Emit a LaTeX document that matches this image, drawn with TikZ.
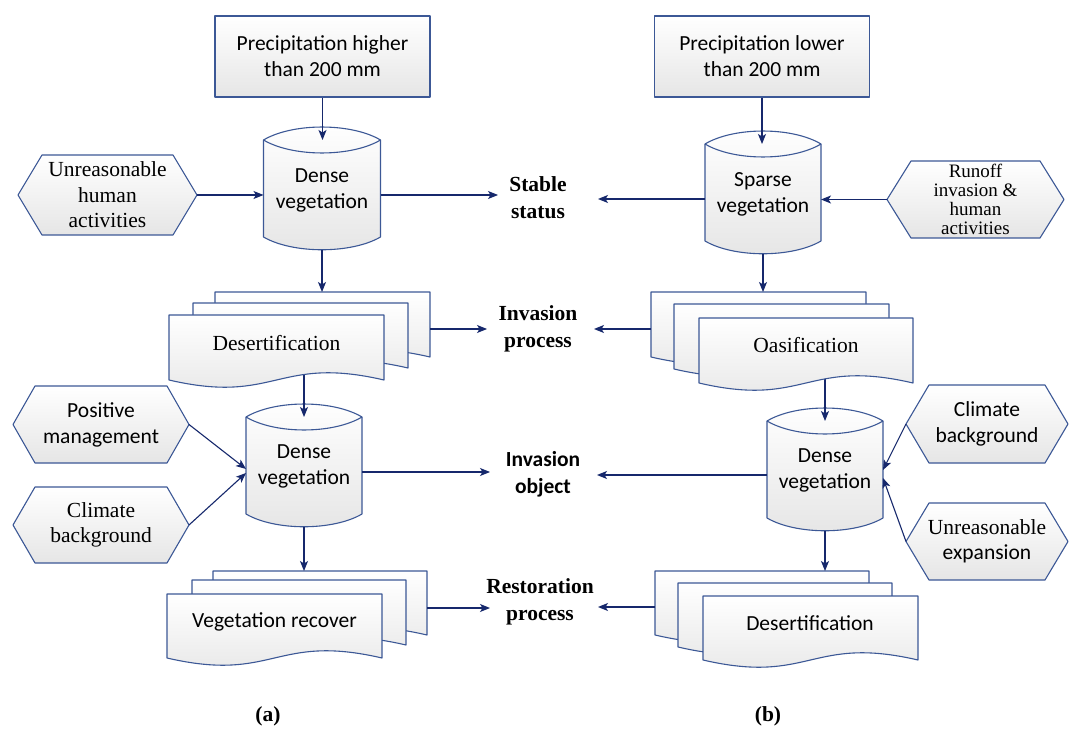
\documentclass[tikz,border=0pt]{standalone}
\usepackage{fontspec}
\setmainfont{Liberation Serif}
\newfontfamily\calfont{Carlito}
\usetikzlibrary{arrows.meta}
\definecolor{shapeblue}{RGB}{60,88,150}
\definecolor{navy}{RGB}{22,40,108}
\tikzset{
 shp/.style={draw=shapeblue, line width=1.1pt, top color=white, bottom color=black!10, line join=round},
 outl/.style={draw=shapeblue, line width=1.1pt},
 anch/.style={inner sep=0pt, outer sep=0pt, draw=none, fill=none},
 arr/.style={draw=navy, line width=1.1pt, -{Stealth[length=10pt,width=8pt,inset=2.5pt]}},
 sans/.style={font=\calfont\fontsize{21.5}{26}\selectfont, align=center, inner sep=0pt},
 serif/.style={font=\fontsize{21.5}{25.5}\selectfont, align=center, inner sep=0pt},
 lab/.style={font=\bfseries\fontsize{21.5}{27}\selectfont, align=center, inner sep=0pt},
}
% cylinder: name, cx, ytop, width
\newcommand\cylshape[4]{%
 \path[shp] ({#2-#4/2},{#3+13}) .. controls ({#2-#4/4},{#3-4.3}) and ({#2+#4/4},{#3-4.3}) .. ({#2+#4/2},{#3+13})
   -- ({#2+#4/2},{#3+110}) .. controls ({#2+#4/4},{#3+127}) and ({#2-#4/4},{#3+127}) .. ({#2-#4/2},{#3+110}) -- cycle;
 \draw[outl] ({#2-#4/2},{#3+13}) .. controls ({#2-#4/4},{#3+30.3}) and ({#2+#4/4},{#3+30.3}) .. ({#2+#4/2},{#3+13});
 \node[anch, minimum width=#4, minimum height=110] (#1) at (#2,{#3+68}) {};}
% hexagon: name, x0, ytop, x1, ybot, inset
\newcommand\hexshape[6]{%
 \path[shp] (#2,{(#3+#5)/2}) -- ({#2+#6},#3) -- ({#4-#6},#3) -- (#4,{(#3+#5)/2}) -- ({#4-#6},#5) -- ({#2+#6},#5) -- cycle;
 \node[anch, minimum width={#4-#2}, minimum height={#5-#3}] (#1) at ({(#2+#4)/2},{(#3+#5)/2}) {};}
% document page anchor: name, x0, ytop, x1, yend
\newcommand\docanchor[5]{%
 \node[anch, minimum width={#4-#2}, minimum height={#5-#3}] (#1) at ({(#2+#4)/2},{(#3+#5)/2}) {};}
% document page shape: x0, ytop, x1, yend
\newcommand\docpage[4]{%
 \path[shp] (#1,#2) -- (#3,#2) -- (#3,#4) .. controls ({(#1+#3)/2},{#4-25}) and ({(#1+#3)/2},{#4+25}) .. (#1,#4) -- cycle;}
\begin{document}
\begin{tikzpicture}[x=1pt,y=-1pt]
\fill[white] (0,0) rectangle (1072,730);
\useasboundingbox (0,0) rectangle (1072,730);

% document anchors
\docanchor{d1a}{215}{292}{430}{357}
\docanchor{d1b}{193}{303}{408}{368}
\docanchor{d1c}{169}{315}{384}{380}
\docanchor{d2a}{651}{292}{866}{357}
\docanchor{d2b}{674}{304}{889}{369}
\docanchor{d2c}{699}{318}{913}{383}
\docanchor{d3a}{213}{571}{427}{635}
\docanchor{d3b}{192}{580}{406}{645}
\docanchor{d3c}{167}{594}{382}{658}
\docanchor{d4a}{655}{571}{869}{635}
\docanchor{d4b}{678}{583}{892}{647}
\docanchor{d4c}{703}{596}{918}{660}

% rectangles
\node[shp, sans, minimum width=215pt, minimum height=81pt] (r1) at (322.5,56.5) {Precipitation higher\\than 200 mm};
\node[shp, sans, minimum width=215pt, minimum height=81pt] (r2) at (762,56.5) {Precipitation lower\\than 200 mm};

% cylinders
\cylshape{c1}{322}{127}{117}
\cylshape{c2}{304}{404}{116}
\cylshape{c3}{763}{131}{116}
\cylshape{c4}{825}{408}{116}

% hexagons
\hexshape{h1}{18}{155}{197}{235}{24}
\hexshape{h2}{13}{386}{189}{463}{22}
\hexshape{h3}{13}{487}{189}{563}{22}
\hexshape{h4}{887}{161}{1064}{238}{24}
\hexshape{h5}{906}{385}{1068}{463}{23}
\hexshape{h6}{906}{503}{1068}{580}{23}

% connectors from documents to cylinders (under the documents)
\draw[arr] (c2.north |- d1c.center) -- (c2.north);
\draw[arr] (c4.north |- d2c.center) -- (c4.north);

% documents
\docpage{215}{292}{430}{357}
\docpage{193}{303}{408}{368}
\docpage{169}{315}{384}{380}
\docpage{651}{292}{866}{357}
\docpage{674}{304}{889}{369}
\docpage{699}{318}{913}{383}
\docpage{213}{571}{427}{635}
\docpage{192}{580}{406}{645}
\docpage{167}{594}{382}{658}
\docpage{655}{571}{869}{635}
\docpage{678}{583}{892}{647}
\docpage{703}{596}{918}{660}

% texts
\node[sans] (tc1) at (322,190) {Dense\\vegetation};
\node[sans] (tc3) at (763,194) {Sparse\\vegetation};
\node[sans] (tc2) at (304,466) {Dense\\vegetation};
\node[sans] (tc4) at (825,470) {Dense\\vegetation};
\node[serif] (th1) at (107.5,195) {Unreasonable\\human\\activities};
\node[sans] (th2) at (101,425) {Positive\\management};
\node[serif] (th3) at (101,525) {Climate\\background};
\node[serif, font=\fontsize{19}{19}\selectfont] (th4) at (975.5,199.5) {Runoff\\invasion \&\\human\\activities};
\node[sans] (th5) at (987,424) {Climate\\background};
\node[serif] (th6) at (987,541.5) {Unreasonable\\{\calfont expansion}};
\node[serif] (td1) at (276.5,343) {Desertification};
\node[serif] (td2) at (806,345) {Oasification};
\node[sans] (td3) at (274.5,622) {Vegetation recover};
\node[sans] (td4) at (810,623) {Desertification};

% middle labels
\node[lab] (l1) at (538,198) {Stable\\status};
\node[lab] (l2) at (538,329) {Invasion\\process};
\node[lab, font=\calfont\bfseries\fontsize{21.5}{27}\selectfont] (l3) at (543,474) {Invasion\\object};
\node[lab] (l4) at (540,602) {Restoration\\process};
\node[lab] (la) at (268,716) {(a)};
\node[lab] (lb) at (768,716) {(b)};

% arrow end points near the labels
\coordinate (e1L) at (498,195);
\coordinate (e1R) at (598,199);
\coordinate (e2L) at (487,329);
\coordinate (e2R) at (594,329);
\coordinate (e3L) at (490,472);
\coordinate (e3R) at (597,475);
\coordinate (e4L) at (490,608);
\coordinate (e4R) at (598,607);

% connectors
\draw[arr] (r1.south) -- (r1.south |- c1.north);
\draw[arr] (r2.south) -- (r2.south |- c3.north);
\draw[arr] (h1.east) -- (h1.east -| c1.west);
\draw[arr] (c1.east |- e1L) -- (e1L);
\draw[arr] (c1.south) -- (c1.south |- d1a.north);
\draw[arr] (h4.west) -- (h4.west -| c3.east);
\draw[arr] (c3.west |- e1R) -- (e1R);
\draw[arr] (c3.south) -- (c3.south |- d2a.north);
\draw[arr] (d1a.east |- e2L) -- (e2L);
\draw[arr] (d2a.west |- e2R) -- (e2R);
\draw[arr] (h2.east) -- ([yshift=3pt]c2.west);
\draw[arr] (h3.east) -- ([yshift=-1pt]c2.west);
\draw[arr] (h5.west) -- ([yshift=6pt]c4.east);
\draw[arr] (h6.west) -- ([yshift=-2pt]c4.east);
\draw[arr] (c2.east |- e3L) -- (e3L);
\draw[arr] (c4.west |- e3R) -- (e3R);
\draw[arr] (c2.south) -- (c2.south |- d3a.north);
\draw[arr] (c4.south) -- (c4.south |- d4a.north);
\draw[arr] (d3a.east |- e4L) -- (e4L);
\draw[arr] (d4a.west |- e4R) -- (e4R);
\end{tikzpicture}
\end{document}
